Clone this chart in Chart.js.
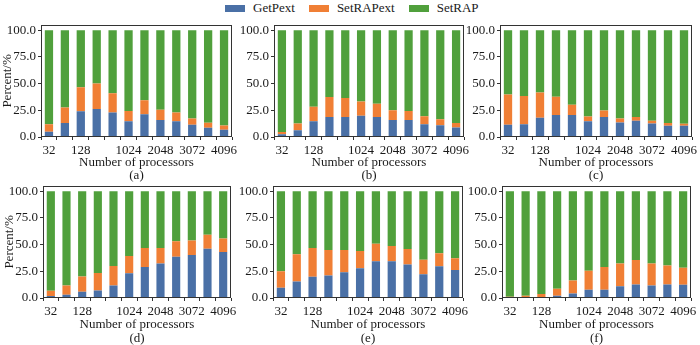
<!DOCTYPE html>
<html lang="en">
<head>
<meta charset="UTF-8">
<title>Percent of time per routine</title>
<style>
  body { margin: 0; width: 700px; height: 345px; background: #fff; position: relative; overflow: hidden;
         font-family: "Liberation Serif", "Times New Roman", serif; color: #1a1a1a; }
  canvas { position: absolute; }
  .legend { position: absolute; left: 225px; top: 0px; height: 16px; display: flex; align-items: center; font-size: 13px; }
  .legend .item { display: flex; align-items: center; margin-right: 14px; }
  .legend .box { display: inline-block; width: 20px; height: 7px; margin-right: 8px; }
  .lbl { position: absolute; font-size: 13px; line-height: 15px; transform: translate(-50%, -50%); white-space: nowrap; }
</style>
</head>
<body>
<div class="legend" id="legend"></div>

<script src="https://cdn.jsdelivr.net/npm/chart.js"></script>
<script>
const processors = ['32', '64', '128', '256', '512', '1024', '1536', '2048', '2560', '3072', '3584', '4096'];
const xTickLabels = ['32', '', '128', '', '', '1024', '', '2048', '', '3072', '', '4096'];
const yTicks = [0, 25, 50, 75, 100];
const seriesNames = ['GetPext', 'SetRAPext', 'SetRAP'];
const seriesColors = ['#4a70a6', '#f07f35', '#50a03c'];

// (a)
const getPextA   = [5.0, 13.0, 24.0, 26.2, 23.0, 14.8, 21.3, 16.0, 14.8, 11.4, 8.6, 6.8];
const setRAPextA = [7.0, 14.5, 22.6, 23.8, 18.0, 9.6, 13.0, 9.6, 8.2, 5.9, 4.7, 4.0];
const setRAPA    = [88.0, 72.5, 53.4, 50.0, 59.0, 75.6, 65.7, 74.4, 77.0, 82.7, 86.7, 89.2];
// (b)
const getPextB   = [2.5, 6.2, 14.8, 18.8, 18.8, 19.8, 18.8, 15.8, 16.0, 12.0, 11.0, 9.0];
const setRAPextB = [2.1, 6.5, 13.6, 18.6, 17.6, 13.5, 12.4, 9.2, 8.4, 7.5, 5.7, 4.0];
const setRAPB    = [95.4, 87.3, 71.6, 62.6, 63.6, 66.7, 68.8, 75.0, 75.6, 80.5, 83.3, 87.0];
// (c)
const getPextC   = [11.4, 12.0, 18.0, 20.7, 20.7, 14.8, 18.8, 13.6, 15.1, 12.7, 10.5, 10.5];
const setRAPextC = [28.4, 26.3, 23.7, 17.0, 9.5, 4.3, 5.9, 3.7, 3.7, 2.4, 2.5, 1.8];
const setRAPC    = [60.2, 61.7, 58.3, 62.3, 69.8, 80.9, 75.3, 82.7, 81.2, 84.9, 87.0, 87.7];
// (d)
const getPextD   = [1.9, 3.1, 5.9, 7.1, 11.8, 23.2, 29.1, 32.2, 38.7, 40.2, 46.1, 43.0];
const setRAPextD = [4.9, 8.7, 14.2, 16.4, 18.2, 16.1, 17.6, 14.5, 14.5, 13.7, 13.0, 12.7];
const setRAPD    = [93.2, 88.2, 79.9, 76.5, 70.0, 60.7, 53.3, 53.3, 46.8, 46.1, 40.9, 44.3];
// (e)
const getPextE   = [9.6, 15.5, 19.8, 21.0, 24.1, 27.9, 34.4, 34.4, 31.3, 22.3, 29.7, 26.3];
const setRAPextE = [15.5, 25.4, 26.9, 23.9, 20.8, 16.1, 16.4, 14.2, 14.5, 13.6, 12.1, 10.9];
const setRAPE    = [74.9, 59.1, 53.3, 55.1, 55.1, 56.0, 49.2, 51.4, 54.2, 64.1, 58.2, 62.8];
// (f)
const getPextF   = [0.3, 0.3, 0.9, 2.2, 4.3, 7.7, 7.7, 11.1, 12.7, 11.8, 12.7, 12.4];
const setRAPextF = [0.9, 1.9, 2.8, 6.5, 12.1, 17.7, 21.4, 21.1, 22.9, 20.4, 17.6, 15.8];
const setRAPF    = [98.8, 97.8, 96.3, 91.3, 83.6, 74.6, 70.9, 67.8, 64.4, 67.8, 69.7, 71.8];

const panels = [
    { tag: '(a)', data: [getPextA, setRAPextA, setRAPA], box: { l: 41,  r: 232, t: 23,  b: 137 }, yTitle: true },
    { tag: '(b)', data: [getPextB, setRAPextB, setRAPB], box: { l: 274, r: 464, t: 23,  b: 137 }, yTitle: false },
    { tag: '(c)', data: [getPextC, setRAPextC, setRAPC], box: { l: 500, r: 692, t: 23,  b: 137 }, yTitle: false },
    { tag: '(d)', data: [getPextD, setRAPextD, setRAPD], box: { l: 43,  r: 231, t: 184, b: 298 }, yTitle: true },
    { tag: '(e)', data: [getPextE, setRAPextE, setRAPE], box: { l: 273, r: 463, t: 184, b: 298 }, yTitle: false },
    { tag: '(f)', data: [getPextF, setRAPextF, setRAPF], box: { l: 502, r: 691, t: 184, b: 298 }, yTitle: false },
];

const FONT = { family: '"Liberation Serif", "Times New Roman", serif', size: 13 };
const INK = '#1a1a1a';
const Y_AXIS_W = 41, X_AXIS_H = 20, PAD_TOP = 8, PAD_RIGHT = 16;

// legend
const legend = document.getElementById('legend');
seriesNames.forEach((name, i) => {
    const item = document.createElement('div');
    item.className = 'item';
    item.innerHTML = '<span class="box" style="background:' + seriesColors[i] + '"></span>' + name;
    legend.appendChild(item);
});

// box around each plot area
const frame = {
    id: 'frame',
    afterDraw(chart) {
        const a = chart.chartArea, ctx = chart.ctx;
        ctx.save();
        ctx.strokeStyle = '#333';
        ctx.lineWidth = 1;
        ctx.strokeRect(Math.round(a.left) + 0.5, Math.round(a.top) + 0.5,
                       Math.round(a.right - a.left) - 1, Math.round(a.bottom - a.top) - 1);
        ctx.restore();
    }
};

function addLabel(text, x, y) {
    const d = document.createElement('div');
    d.className = 'lbl';
    d.textContent = text;
    d.style.left = x + 'px';
    d.style.top = y + 'px';
    document.body.appendChild(d);
}

panels.forEach(p => {
    const c = document.createElement('canvas');
    const left = p.box.l - Y_AXIS_W, top = p.box.t - PAD_TOP;
    const w = (p.box.r - p.box.l) + Y_AXIS_W + PAD_RIGHT;
    const h = (p.box.b - p.box.t) + PAD_TOP + X_AXIS_H;
    c.style.left = left + 'px';
    c.style.top = top + 'px';
    c.style.width = w + 'px';
    c.style.height = h + 'px';
    c.width = w; c.height = h;
    document.body.appendChild(c);

    const cx = (p.box.l + p.box.r) / 2;
    const topRow = p.box.t < 100;
    addLabel('Number of processors', cx, p.box.b + (topRow ? 24 : 25));
    addLabel(p.tag, cx, p.box.b + (topRow ? 37 : 39));

    new Chart(c, {
        type: 'bar',
        data: {
            labels: processors,
            datasets: seriesNames.map((name, i) => ({
                label: name,
                data: p.data[i],
                backgroundColor: seriesColors[i],
                borderWidth: 0,
                categoryPercentage: 1,
                barPercentage: 0.52
            }))
        },
        options: {
            responsive: false,
            animation: false,
            layout: { padding: { left: 0, top: PAD_TOP, right: PAD_RIGHT, bottom: 0 } },
            plugins: { legend: { display: false }, tooltip: { enabled: false } },
            scales: {
                x: {
                    stacked: true,
                    border: { display: false },
                    grid: { display: true, drawOnChartArea: false, tickLength: 3, color: '#333' },
                    ticks: {
                        autoSkip: false, maxRotation: 0, padding: 3, color: INK, font: FONT,
                        callback: (v, i) => xTickLabels[i]
                    },
                    afterFit: axis => { axis.height = X_AXIS_H; }
                },
                y: {
                    stacked: true,
                    min: 0,
                    max: 105,
                    border: { display: false },
                    grid: { display: true, drawOnChartArea: false, tickLength: 3, color: '#333' },
                    ticks: { padding: 2, color: INK, font: FONT, callback: v => v.toFixed(1) },
                    afterBuildTicks: axis => { axis.ticks = yTicks.map(v => ({ value: v })); },
                    title: { display: p.yTitle, text: 'Percent/%', color: INK, font: FONT,
                             padding: { top: 0, bottom: 0 } },
                    afterFit: axis => { axis.width = Y_AXIS_W; }
                }
            }
        },
        plugins: [frame]
    });
});
</script>
</body>
</html>
